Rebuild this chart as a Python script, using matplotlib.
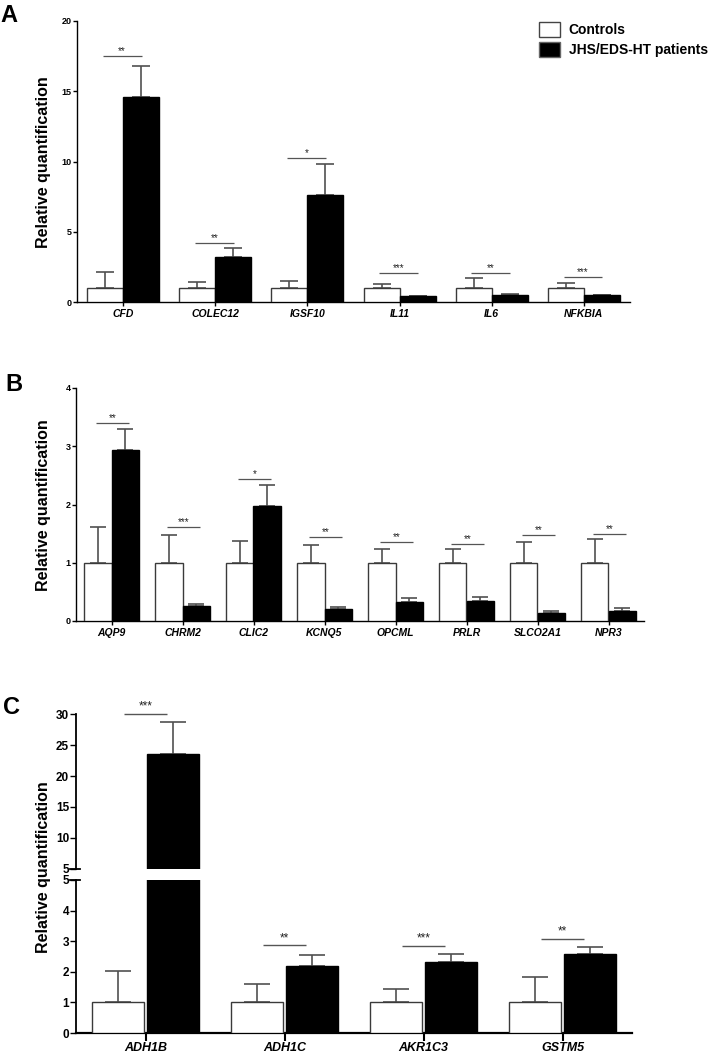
import matplotlib
matplotlib.use("Agg")
import matplotlib.pyplot as plt
from matplotlib.patches import Patch
import numpy as np

plt.rcParams['font.family'] = ['Liberation Sans', 'DejaVu Sans']
plt.rcParams['font.weight'] = 'bold'

W, H = 713, 1052

# ---------------- data ----------------
genes_A = ['CFD', 'COLEC12', 'IGSF10', 'IL11', 'IL6', 'NFKBIA']
ctrl_A = [1, 1, 1, 1, 1, 1]
ctrl_err_A = [1.15, 0.4, 0.5, 0.28, 0.7, 0.35]
pat_A = [14.6, 3.2, 7.6, 0.43, 0.5, 0.48]
pat_err_A = [2.2, 0.65, 2.25, 0.03, 0.04, 0.03]
sig_A = ['**', '**', '*', '***', '**', '***']
sig_y_A = [17.5, 4.2, 10.25, 2.05, 2.05, 1.8]
yticks_A = [0, 5, 10, 15, 20]

genes_B = ['AQP9', 'CHRM2', 'CLIC2', 'KCNQ5', 'OPCML', 'PRLR', 'SLCO2A1', 'NPR3']
ctrl_B = [1, 1, 1, 1, 1, 1, 1, 1]
ctrl_err_B = [0.61, 0.48, 0.38, 0.3, 0.23, 0.23, 0.35, 0.4]
pat_B = [2.94, 0.26, 1.98, 0.2, 0.33, 0.35, 0.14, 0.18]
pat_err_B = [0.35, 0.04, 0.35, 0.035, 0.06, 0.06, 0.03, 0.04]
sig_B = ['**', '***', '*', '**', '**', '**', '**', '**']
sig_y_B = [3.4, 1.62, 2.44, 1.44, 1.35, 1.33, 1.47, 1.49]
yticks_B = [0, 1, 2, 3, 4]

genes_C = ['ADH1B', 'ADH1C', 'AKR1C3', 'GSTM5']
ctrl_C = [1, 1, 1, 1]
ctrl_err_C = [1.04, 0.59, 0.43, 0.82]
pat_C = [23.6, 2.19, 2.31, 2.59]
pat_err_C = [5.1, 0.36, 0.26, 0.21]
sig_C = ['***', '**', '***', '**']
sig_y_C = [30.1, 2.87, 2.85, 3.08]
yticks_C_low = [0, 1, 2, 3, 4, 5]
yticks_C_high = [5, 10, 15, 20, 25, 30]

legend_labels = ['Controls', 'JHS/EDS-HT patients']
ylabel = 'Relative quantification'

ERR_COLOR = '#505050'
EDGE_CTRL = '#3a3a3a'
SIG_COLOR = '#555555'


def px_axes(l, t, r, b):
    return fig.add_axes([l / W, 1 - b / H, (r - l) / W, (b - t) / H])


def style_axes(ax, tick_fs, tick_len, spine_lw):
    for s in ['top', 'right']:
        ax.spines[s].set_visible(False)
    for s in ['left', 'bottom']:
        ax.spines[s].set_linewidth(spine_lw)
        ax.spines[s].set_color('black')
    ax.tick_params(axis='both', direction='out', length=tick_len, width=1.0,
                   labelsize=tick_fs, pad=1.0, colors='black')
    for lab in ax.get_yticklabels():
        lab.set_fontweight('bold')


def draw_bars(ax, ctrl, ctrl_err, pat, pat_err, bw, gap, capsize, elw, bar_lw):
    x = np.arange(len(ctrl))
    xc = x - bw / 2 - gap / 2
    xp = x + bw / 2 + gap / 2
    ax.bar(xc, ctrl, width=bw, color='white', edgecolor=EDGE_CTRL,
           linewidth=bar_lw, zorder=3)
    ax.bar(xp, pat, width=bw, color='black', edgecolor='black',
           linewidth=bar_lw, zorder=3)
    ax.errorbar(xc, ctrl, yerr=[np.zeros(len(ctrl)), ctrl_err], fmt='none',
                ecolor=ERR_COLOR, elinewidth=elw, capsize=capsize,
                capthick=elw, zorder=2)
    ax.errorbar(xp, pat, yerr=[np.zeros(len(pat)), pat_err], fmt='none',
                ecolor=ERR_COLOR, elinewidth=elw, capsize=capsize,
                capthick=elw, zorder=2)
    return x


def draw_sig(ax, x, sig, sig_y, lo, hi, fs, off, lw):
    for xi, s, y in zip(x, sig, sig_y):
        ax.plot([xi + lo, xi + hi], [y, y], color=SIG_COLOR, lw=lw,
                clip_on=False, zorder=4, solid_capstyle='butt')
        ax.annotate(s, xy=((xi + lo + xi + hi) / 2, y), xytext=(0, off),
                    textcoords='offset points', ha='center', va='center',
                    fontsize=fs, fontweight='normal', color='#222222',
                    annotation_clip=False)


fig = plt.figure(figsize=(W / 100, H / 100), dpi=100)

# ---------------- Panel A ----------------
axA = px_axes(77, 21, 630, 302)
xA = draw_bars(axA, ctrl_A, ctrl_err_A, pat_A, pat_err_A, bw=0.39, gap=0.0,
               capsize=6.5, elw=1.2, bar_lw=1.0)
draw_sig(axA, xA, sig_A, sig_y_A, -0.22, 0.2, 7, 3.5, 0.9)
axA.set_xlim(-0.5, len(genes_A) - 0.5)
axA.set_ylim(0, 20)
axA.set_yticks(yticks_A)
axA.set_xticks(xA)
axA.set_xticklabels(genes_A, fontstyle='italic', fontweight='bold', fontsize=7.5)
style_axes(axA, 6.5, 3, 1.0)
axA.tick_params(axis='x', labelsize=7.5, length=3, pad=2)

handles = [Patch(facecolor='white', edgecolor='#444444', linewidth=1.0),
           Patch(facecolor='black', edgecolor='#666666', linewidth=1.0)]
fig.legend(handles, legend_labels, loc='upper left',
           bbox_to_anchor=(539 / W, 1 - 22 / H), bbox_transform=fig.transFigure,
           frameon=False, prop={'weight': 'bold', 'size': 10},
           handlelength=1.5, handleheight=1.3, handletextpad=0.65,
           labelspacing=0.35, borderpad=0, borderaxespad=0)

# ---------------- Panel B ----------------
axB = px_axes(76, 388, 644, 621)
xB = draw_bars(axB, ctrl_B, ctrl_err_B, pat_B, pat_err_B, bw=0.39, gap=0.0,
               capsize=5.8, elw=1.2, bar_lw=1.0)
draw_sig(axB, xB, sig_B, sig_y_B, -0.22, 0.25, 7, 3.5, 0.9)
axB.set_xlim(-0.5, len(genes_B) - 0.5)
axB.set_ylim(0, 4)
axB.set_yticks(yticks_B)
axB.set_xticks(xB)
axB.set_xticklabels(genes_B, fontstyle='italic', fontweight='bold', fontsize=7.5)
style_axes(axB, 6.5, 3, 1.0)
axB.tick_params(axis='x', labelsize=7.5, length=3, pad=2)

# ---------------- Panel C (broken axis) ----------------
axC_hi = px_axes(76, 714.3, 632, 868.7)
axC_lo = px_axes(76, 880, 632, 1033)
for ax in (axC_hi, axC_lo):
    xC = draw_bars(ax, ctrl_C, ctrl_err_C, pat_C, pat_err_C, bw=0.38,
                   gap=0.015, capsize=9.5, elw=1.2, bar_lw=1.0)
    ax.set_xlim(-0.5, len(genes_C) - 0.5)

axC_hi.set_ylim(5, 30)
axC_hi.set_yticks(yticks_C_high)
axC_lo.set_ylim(0, 5)
axC_lo.set_yticks(yticks_C_low)

# significance: ADH1B in upper, rest in lower
draw_sig(axC_hi, xC[:1], sig_C[:1], sig_y_C[:1], -0.155, 0.155, 8.5, 5, 1.0)
draw_sig(axC_lo, xC[1:], sig_C[1:], sig_y_C[1:], -0.155, 0.155, 8.5, 5, 1.0)

style_axes(axC_hi, 8.5, 4, 1.3)
style_axes(axC_lo, 8.5, 4, 1.3)
axC_hi.spines['bottom'].set_visible(False)
axC_hi.set_xticks([])
axC_lo.spines['bottom'].set_linewidth(1.6)
axC_lo.set_xticks(xC)
axC_lo.set_xticklabels(genes_C, fontstyle='italic', fontweight='bold', fontsize=9)
axC_lo.tick_params(axis='x', length=6, width=1.5, pad=0.5)

# break marks crossing the spine
for ax, yv in ((axC_hi, 0.0), (axC_lo, 1.0)):
    ax.plot([-0.01, 0.008], [yv, yv], transform=ax.transAxes, color='black',
            lw=1.3, clip_on=False, zorder=5)

# ---------------- labels ----------------
for yc in (162.5, 505, 867.5):
    fig.text(44 / W, 1 - yc / H, ylabel, rotation=90, ha='center', va='center',
             fontsize=11.5, fontweight='bold')

fig.text(0 / W, 1 - 4 / H, 'A', fontsize=17, fontweight='bold', ha='left', va='top')
fig.text(5 / W, 1 - 373 / H, 'B', fontsize=17, fontweight='bold', ha='left', va='top')
fig.text(3 / W, 1 - 696 / H, 'C', fontsize=17, fontweight='bold', ha='left', va='top')

fig.savefig('out.png', dpi=100)
